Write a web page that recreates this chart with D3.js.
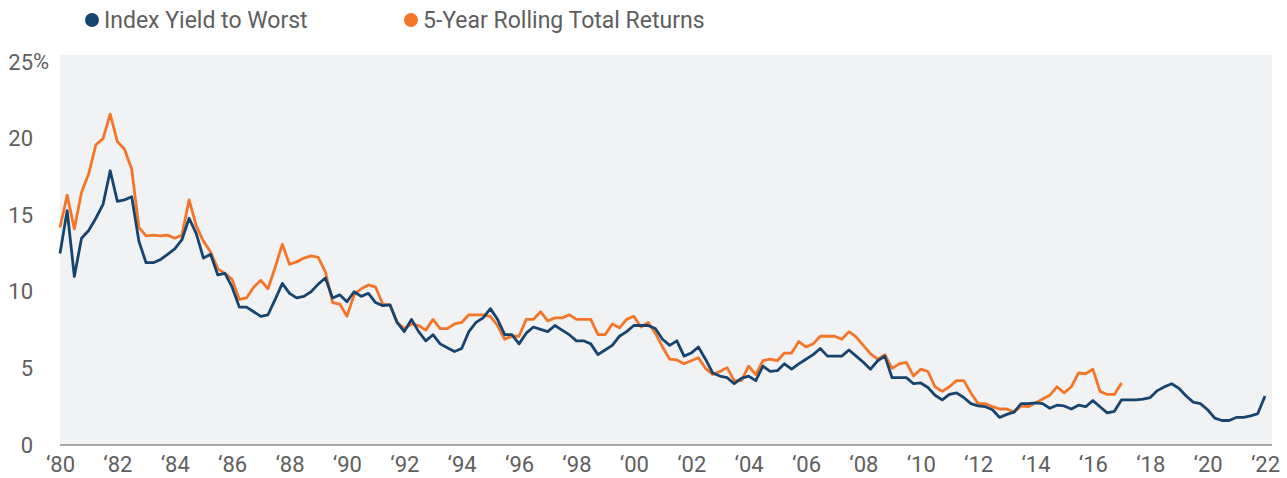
<!DOCTYPE html>
<html>
<head>
<meta charset="utf-8">
<script src="https://cdn.jsdelivr.net/npm/d3@7"></script>
<style>
  body { margin: 0; background: #fff; }
  text { font-family: "Roboto", "Liberation Sans", sans-serif; }
</style>
</head>
<body>
<script>
// quarterly data, first point = Q1 1980
const startYear = 1980;

// Index Yield to Worst (%)
const yieldToWorst = [
  12.5, 15.3, 11.0, 13.5, 14.0, 14.8, 15.7, 17.9, 15.9, 16.0, 16.2, 13.3,
  11.9, 11.9, 12.1, 12.45, 12.8, 13.4, 14.8, 13.8, 12.2, 12.45, 11.1, 11.2,
  10.3, 9.0, 9.0, 8.7, 8.4, 8.5, 9.5, 10.55, 9.9, 9.6, 9.7, 10.0,
  10.5, 10.9, 9.6, 9.8, 9.35, 10.0, 9.7, 9.9, 9.3, 9.1, 9.15, 8.0,
  7.4, 8.2, 7.4, 6.8, 7.2, 6.6, 6.35, 6.1, 6.3, 7.4, 8.0, 8.3,
  8.9, 8.2, 7.2, 7.2, 6.6, 7.3, 7.7, 7.55, 7.4, 7.8, 7.5, 7.2,
  6.8, 6.8, 6.6, 5.9, 6.2, 6.5, 7.1, 7.4, 7.8, 7.8, 7.8, 7.6,
  6.9, 6.5, 6.8, 5.8, 6.0, 6.4, 5.6, 4.7, 4.5, 4.4, 4.0, 4.35,
  4.5, 4.2, 5.15, 4.8, 4.85, 5.3, 4.95, 5.3, 5.6, 5.9, 6.3, 5.8,
  5.8, 5.8, 6.2, 5.8, 5.4, 4.95, 5.5, 5.8, 4.4, 4.4, 4.4, 4.0,
  4.05, 3.75, 3.25, 2.95, 3.3, 3.4, 3.1, 2.7, 2.55, 2.5, 2.3, 1.8,
  2.0, 2.15, 2.7, 2.7, 2.75, 2.7, 2.4, 2.6, 2.55, 2.35, 2.6, 2.5,
  2.9, 2.5, 2.1, 2.2, 2.95, 2.95, 2.95, 3.0, 3.1, 3.55, 3.8, 4.0,
  3.7, 3.2, 2.8, 2.7, 2.3, 1.75, 1.6, 1.6, 1.8, 1.8, 1.9, 2.05,
  3.2
];

// 5-Year Rolling Total Returns (%)
const rollingReturns = [
  14.2, 16.3, 14.1, 16.5, 17.7, 19.6, 20.0, 21.6, 19.8, 19.3, 18.0, 14.2,
  13.65, 13.7, 13.65, 13.7, 13.5, 13.7, 16.0, 14.3, 13.3, 12.6, 11.5, 11.2,
  10.8, 9.5, 9.6, 10.3, 10.75, 10.2, 11.6, 13.1, 11.8, 11.95, 12.2, 12.35,
  12.25, 11.3, 9.3, 9.2, 8.4, 9.8, 10.2, 10.45, 10.3, 9.2, 9.15, 8.0,
  7.6, 7.9, 7.8, 7.5, 8.2, 7.6, 7.6, 7.9, 8.0, 8.5, 8.5, 8.5,
  8.4, 7.8, 6.9, 7.1, 7.1, 8.2, 8.2, 8.7, 8.1, 8.3, 8.3, 8.5,
  8.2, 8.2, 8.2, 7.2, 7.2, 7.9, 7.65, 8.2, 8.4, 7.7, 8.0, 7.3,
  6.4, 5.6, 5.55, 5.3, 5.5, 5.7, 5.0, 4.6, 4.8, 5.05, 4.2, 4.2,
  5.15, 4.6, 5.5, 5.6, 5.5, 6.0, 6.0, 6.75, 6.4, 6.6, 7.1, 7.1,
  7.1, 6.9, 7.4, 7.05, 6.5, 5.95, 5.6, 5.9, 5.0, 5.3, 5.4, 4.5,
  4.95, 4.8, 3.8, 3.5, 3.8, 4.2, 4.2, 3.4, 2.7, 2.7, 2.5, 2.35,
  2.35, 2.15, 2.55, 2.5, 2.75, 3.0, 3.25, 3.8, 3.4, 3.8, 4.7, 4.65,
  4.95, 3.5, 3.3, 3.3, 4.05
];

const xTicks = [1980, 1982, 1984, 1986, 1988, 1990, 1992, 1994, 1996, 1998, 2000,
  2002, 2004, 2006, 2008, 2010, 2012, 2014, 2016, 2018, 2020, 2022];
const yTicks = [0, 5, 10, 15, 20, 25];

const seriesNames = ["Index Yield to Worst", "5-Year Rolling Total Returns"];
const seriesColors = ["#17446e", "#f47528"];

const width = 1287, height = 478;
const panel = { left: 60, right: 1272, top: 55, bottom: 445 };
const labelColor = "#5e5e5e";

const svg = d3.select("body").append("svg")
  .attr("width", width)
  .attr("height", height);

const x = d3.scaleLinear().domain([1980, 2022]).range([60, 1265]);
const y = d3.scaleLinear().domain([0, 25]).range([445, 62]);

// plot background
svg.append("rect")
  .attr("x", panel.left)
  .attr("y", panel.top)
  .attr("width", panel.right - panel.left)
  .attr("height", panel.bottom - panel.top)
  .attr("fill", "#f1f2f4");

// y axis labels
const yAxis = svg.append("g")
  .attr("transform", "translate(33,0)")
  .call(d3.axisLeft(y).tickValues(yTicks).tickSize(0).tickPadding(0));
yAxis.select(".domain").remove();
yAxis.selectAll("text")
  .attr("font-size", 22)
  .attr("fill", labelColor)
  .style("font-family", "Roboto, sans-serif");
// percent sign after top label
yAxis.append("text")
  .attr("x", 0)
  .attr("y", y(25))
  .attr("dy", "0.32em")
  .attr("text-anchor", "start")
  .attr("font-size", 22)
  .attr("fill", labelColor)
  .text("%");

// x axis
const xAxis = svg.append("g")
  .attr("transform", `translate(0,${panel.bottom})`)
  .call(d3.axisBottom(x).tickValues(xTicks).tickSize(0).tickPadding(11)
    .tickFormat(d => "\u2018" + String(d).slice(2)));
xAxis.select(".domain")
  .attr("d", `M${panel.left},0H${panel.right}`)
  .attr("stroke", "#8c8c8c")
  .attr("stroke-width", 1.5);
xAxis.selectAll("text")
  .attr("font-size", 22)
  .attr("fill", labelColor)
  .style("font-family", "Roboto, sans-serif");

const line = d3.line()
  .x((d, i) => x(startYear + i / 4))
  .y(d => y(d));

svg.append("path")
  .datum(rollingReturns)
  .attr("fill", "none")
  .attr("stroke", seriesColors[1])
  .attr("stroke-width", 2.8)
  .attr("stroke-linejoin", "round")
  .attr("d", line);

svg.append("path")
  .datum(yieldToWorst)
  .attr("fill", "none")
  .attr("stroke", seriesColors[0])
  .attr("stroke-width", 2.8)
  .attr("stroke-linejoin", "round")
  .attr("d", line);

// legend
const legendX = [92, 411];
const legend = svg.selectAll(".legend")
  .data(seriesNames)
  .enter().append("g")
  .attr("class", "legend")
  .attr("transform", (d, i) => `translate(${legendX[i]},20)`);
legend.append("circle")
  .attr("r", 7)
  .attr("fill", (d, i) => seriesColors[i]);
legend.append("text")
  .attr("x", 12)
  .attr("dy", "0.35em")
  .attr("font-size", 23)
  .attr("fill", labelColor)
  .text(d => d);
</script>
</body>
</html>
